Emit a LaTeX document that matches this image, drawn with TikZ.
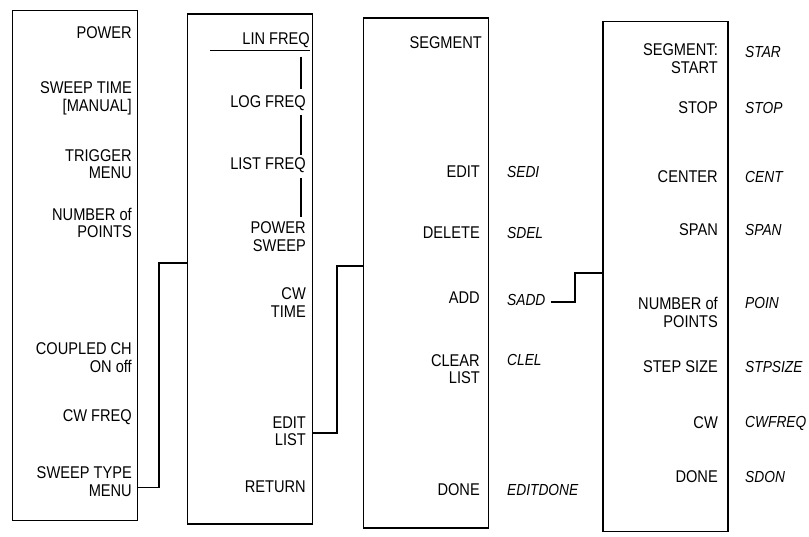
\documentclass[tikz,border=0pt]{standalone}
\usepackage{fontspec}
\setmainfont{Liberation Sans}[FakeStretch=0.86]
\usepackage{tikz}
\usetikzlibrary{positioning}

\begin{document}
\begin{tikzpicture}[
    x=1pt, y=-1pt,
    every node/.style={font=\fontsize{17}{17.5}\selectfont, inner sep=0pt},
    menu/.style={rectangle, draw, line width=1.7pt, minimum width=125pt, minimum height=510pt},
    softkey/.style={anchor=east, align=right},
    mnem/.style={anchor=west, font=\fontsize{16}{17}\selectfont\itshape},
    link/.style={line width=1.4pt},
    radio/.style={line width=1.2pt},
]
\useasboundingbox (0,0) rectangle (809,536);

% Menu boxes
\node[menu] (sweep) at (75,265.5) {};
\node[menu] (sweeptypemenu) at (250,269) {};
\node[menu] (editlistmenu) at (426,273) {};
\node[menu] (segmenu) at (665.5,276.5) {};

% Sweep menu keys
\node[softkey] (power) at (132,33) {POWER};
\node[softkey] (sweeptime) at (132,98.5) {SWEEP TIME\\{[MANUAL]}};
\node[softkey] (trigger) at (132,164) {TRIGGER\\MENU};
\node[softkey] (numpts) at (132,223) {NUMBER of\\POINTS};
\node[softkey] (coupled) at (132,357.5) {COUPLED CH\\ON off};
\node[softkey] (cwfreq) at (132,417) {CW FREQ};
\node[softkey] (sweeptype) at (132,481.5) {SWEEP TYPE\\MENU};

% Sweep type menu keys
\node[softkey] (linfreq) at (310,40) {LIN FREQ};
\node[softkey] (logfreq) at (306,103) {LOG FREQ};
\node[softkey] (listfreq) at (306,165) {LIST FREQ};
\node[softkey] (powersweep) at (306,236.5) {POWER\\SWEEP};
\node[softkey] (cwtime) at (306,302.5) {CW\\TIME};
\node[softkey] (editlist) at (306,431) {EDIT\\LIST};
\node[softkey] (return) at (306,487) {RETURN};

% Edit list menu keys
\node[softkey] (segment) at (482,43) {SEGMENT};
\node[softkey] (edit) at (480,172) {EDIT};
\node[softkey] (delete) at (480,233) {DELETE};
\node[softkey] (add) at (480,298) {ADD};
\node[softkey] (clearlist) at (480,369) {CLEAR\\LIST};
\node[softkey] (editdone) at (480,490) {DONE};
\node[mnem] (sedi) at (507,172) {SEDI};
\node[mnem] (sdel) at (507,233) {SDEL};
\node[mnem] (sadd) at (507,300) {SADD};
\node[mnem] (clel) at (507,360) {CLEL};
\node[mnem] (edone) at (507,490) {EDITDONE};

% Segment menu keys
\node[softkey] (segstart) at (718,58.5) {SEGMENT:\\START};
\node[softkey] (stop) at (718,108) {STOP};
\node[softkey] (center) at (718,177) {CENTER};
\node[softkey] (span) at (718,230) {SPAN};
\node[softkey] (segpts) at (718,312.5) {NUMBER of\\POINTS};
\node[softkey] (stepsize) at (718,367) {STEP SIZE};
\node[softkey] (cw) at (718,423) {CW};
\node[softkey] (segdone) at (718,477) {DONE};
\node[mnem] (star) at (745,52) {STAR};
\node[mnem] (stopm) at (745,108) {STOP};
\node[mnem] (cent) at (745,177) {CENT};
\node[mnem] (spanm) at (745,230) {SPAN};
\node[mnem] (poin) at (745,303) {POIN};
\node[mnem] (stpsize) at (745,367) {STPSIZE};
\node[mnem] (cwfreqm) at (745,423) {CWFREQ};
\node[mnem] (sdon) at (745,477) {SDON};

% Radio group
\coordinate (rail) at (301,0);
\draw[radio] ([xshift=-100pt,yshift=-3pt]linfreq.south east) -- ([yshift=-3pt]linfreq.south east);
\draw[radio] ([yshift=-9pt]linfreq.south -| rail) -- ([yshift=6pt]logfreq.north -| rail);
\draw[radio] ([yshift=-4pt]logfreq.south -| rail) -- ([yshift=2pt]listfreq.north -| rail);
\draw[radio] ([yshift=-5pt]listfreq.south -| rail) -- ([yshift=5pt]powersweep.north -| rail);

% Links between menus
\coordinate (j1) at (159,263);
\coordinate (j2) at (337,266);
\coordinate (j3) at (575,273);
\draw[link] ([yshift=-6pt]sweeptype.east -| sweep.east) -| (j1) -- (j1 -| sweeptypemenu.west);
\draw[link] ([yshift=-2pt]editlist.east -| sweeptypemenu.east) -| (j2) -- (j2 -| editlistmenu.west);
\draw[link] ([xshift=5pt,yshift=-2pt]sadd.east) -| (j3) -- (j3 -| segmenu.west);

\end{tikzpicture}
\end{document}
